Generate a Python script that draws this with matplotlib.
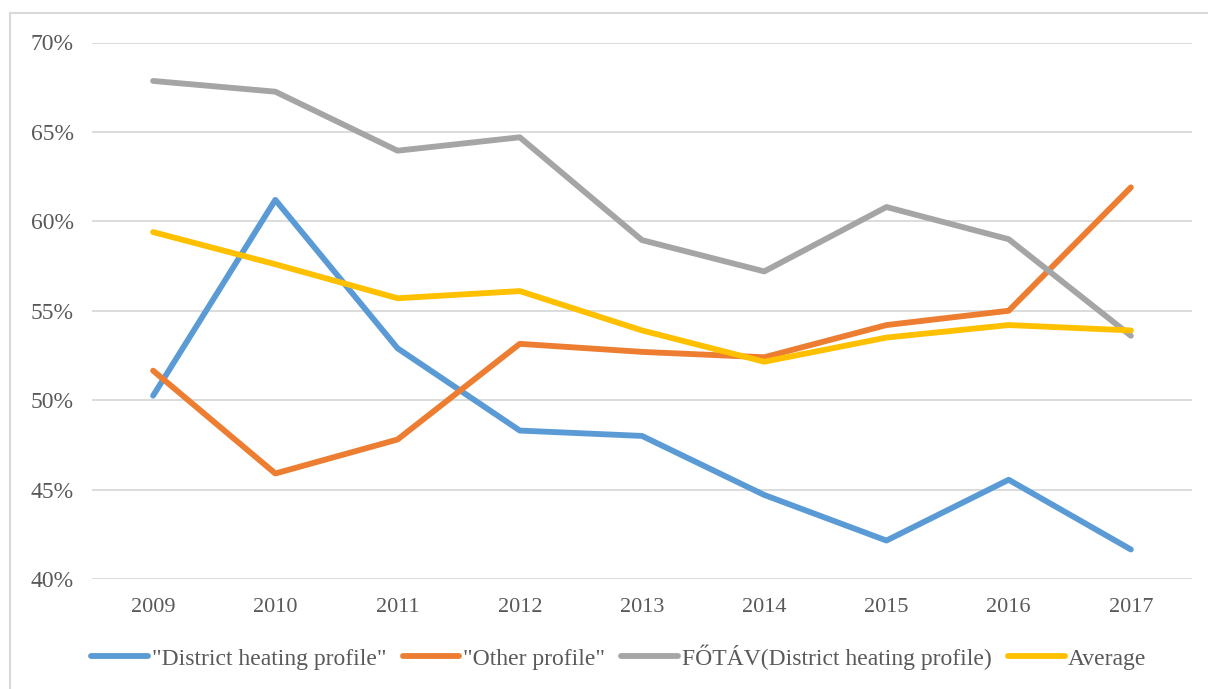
import matplotlib.pyplot as plt
from matplotlib.lines import Line2D
from matplotlib.ticker import FuncFormatter

years = ['2009', '2010', '2011', '2012', '2013', '2014', '2015', '2016', '2017']
district = [50.25, 61.2, 52.9, 48.3, 48.0, 44.7, 42.15, 45.55, 41.65]
other = [51.65, 45.9, 47.8, 53.15, 52.7, 52.4, 54.2, 55.0, 61.9]
fotav = [67.85, 67.25, 63.95, 64.7, 58.95, 57.2, 60.8, 59.0, 53.6]
average = [59.4, 57.6, 55.7, 56.1, 53.9, 52.15, 53.5, 54.2, 53.9]

labels = ['"District heating profile"', '"Other profile"',
          'FŐTÁV(District heating profile)', 'Average']
colors = ['#5B9BD5', '#ED7D31', '#A5A5A5', '#FFC000']

plt.rcParams['font.family'] = ['Liberation Serif', 'DejaVu Serif']

fig = plt.figure(figsize=(12.08, 6.89), dpi=100)
ax = fig.add_axes([92 / 1208, 1 - 579 / 689, 1100 / 1208, (579 - 42.5) / 689])

x = range(len(years))
for series, lab, c in zip([district, other, fotav, average], labels, colors):
    ax.plot(x, series, color=c, lw=4.2, label=lab, solid_capstyle='round',
            solid_joinstyle='round')

ax.set_xlim(-0.5, len(years) - 0.5)
ax.set_ylim(40, 70)
ax.set_yticks(range(40, 71, 5))
ax.yaxis.set_major_formatter(FuncFormatter(lambda v, p: f'{v:.0f}%'))
ax.set_xticks(list(x))
ax.set_xticklabels(years)
ax.grid(axis='y', color='#D9D9D9', lw=1.3)
ax.set_axisbelow(True)
for s in ax.spines.values():
    s.set_visible(False)
ax.tick_params(length=0, labelsize=16, labelcolor='#595959')
ax.tick_params(axis='y', labelsize=17, pad=13)
ax.tick_params(axis='x', pad=14)

# outer chart border (top and left visible)
fig.add_artist(Line2D([10 / 1208, 1], [1 - 13 / 689] * 2, color='#D9D9D9', lw=1.5))
fig.add_artist(Line2D([10 / 1208] * 2, [0, 1 - 13 / 689], color='#D9D9D9', lw=1.5))

fig.legend(loc='center', bbox_to_anchor=(619 / 1208, 1 - 657 / 689), ncol=4,
           frameon=False, fontsize=17, labelcolor='#595959', handlelength=2.4,
           handletextpad=0.15, columnspacing=0.7)

fig.savefig('out.png', dpi=100)
